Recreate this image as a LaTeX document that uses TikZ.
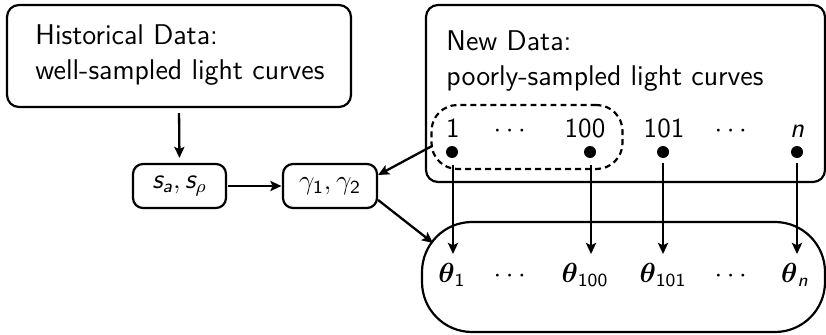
\documentclass[tikz,border=0pt]{standalone}
\usepackage{amsmath}
\usetikzlibrary{arrows.meta}
\renewcommand\familydefault{\sfdefault}
\newcommand\sfi[1]{\text{\sffamily\itshape #1}}
\newcommand\sfu[1]{\text{\sffamily\upshape #1}}
\newcommand\pu{0.4348pt}
\begin{document}
\begin{tikzpicture}[x=0.4348pt,y=-0.4348pt,
  box/.style={draw, line width=0.95pt, rounded corners=12*\pu, inner sep=0pt},
  arr/.style={line width=1pt, -{Stealth[length=4.8pt,width=4.4pt,inset=1pt]}},
  lbl/.style={font=\fontsize{12.4}{14}\selectfont, anchor=base west, inner sep=0pt},
  mth/.style={font=\fontsize{12}{14}\selectfont, inner sep=0pt, anchor=base},
  dotn/.style={circle, fill, inner sep=0pt, minimum size=12*\pu}]
\useasboundingbox (0,0) rectangle (826,334);
% left part
\node[box, minimum width=344*\pu, minimum height=102*\pu] (hist) at (179,56) {};
\node[lbl] (h1) at (35,44) {Historical Data:};
\node[lbl] (h2) at (35,79) {well-sampled light curves};
\node[box, rounded corners=10*\pu, minimum width=93*\pu, minimum height=44*\pu, font=\fontsize{12}{14}\selectfont] (sa) at (179.5,186) {$\sfi{s}_{\sfi{a}}, \sfi{s}_{\rho}$};
\node[box, rounded corners=10*\pu, minimum width=94*\pu, minimum height=44*\pu, font=\fontsize{12}{14}\selectfont] (gam) at (330,186) {$\gamma_{\sfu{1}}, \gamma_{\sfu{2}}$};
% new data
\node[box, minimum width=399*\pu, minimum height=177*\pu] (new) at (625.5,93.5) {};
\node[lbl] (n1) at (446,50) {New Data:};
\node[lbl] (n2) at (446,85) {poorly-sampled light curves};
\node[draw, line width=0.95pt, dash pattern=on 2.6pt off 1.75pt, rounded corners=26*\pu, minimum width=191*\pu, minimum height=64*\pu, inner sep=0pt] (dash) at (527,137) {};
\node[mth] (c1) at (453,137) {1};
\node[mth] (cd1) at (512,137) {$\cdots$};
\node[mth] (c100) at (585,137) {100};
\node[mth] (c101) at (664,137) {101};
\node[mth] (cd2) at (733,137) {$\cdots$};
\node[mth] (cn) at (797,137) {\itshape n};
\node[dotn] (d1) at (452,152) {};
\node[dotn] (d100) at (590,152) {};
\node[dotn] (d101) at (663,152) {};
\node[dotn] (dn) at (797,152) {};
% bottom
\node[box, rounded corners=50*\pu, minimum width=403*\pu, minimum height=110*\pu] (bot) at (623.5,277) {};
\node[mth] (t1) at (452,282) {$\boldsymbol{\theta}_{\sfu{1}}$};
\node[mth] (td1) at (512,282) {$\cdots$};
\node[mth] (t100) at (585,282) {$\boldsymbol{\theta}_{\sfu{100}}$};
\node[mth] (t101) at (663,282) {$\boldsymbol{\theta}_{\sfu{101}}$};
\node[mth] (td2) at (733,282) {$\cdots$};
\node[mth] (tn) at (795,282) {$\boldsymbol{\theta}_{\sfi{n}}$};
\coordinate (e1) at (453,254);
\coordinate (e100) at (591,254);
\coordinate (e101) at (663,254);
\coordinate (en) at (797,254);
\coordinate (s1) at (453,165);
\coordinate (s100) at (591,165);
\coordinate (s101) at (663,163);
\coordinate (sn) at (797,163);
\coordinate (dl) at (432,146);
\coordinate (bl) at (433,243);
% arrows
\draw[arr, shorten <=5*\pu, shorten >=5*\pu] (hist.south) -- (sa.north);
\draw[arr, shorten <=1*\pu, shorten >=0.5*\pu] (sa.east) -- (gam.west);
\draw[arr] (dl) -- ([yshift=11*\pu]gam.east);
\draw[arr] ([yshift=-14*\pu]gam.east) -- (bl);
\draw[arr] (s1) -- (e1);
\draw[arr] (s100) -- (e100);
\draw[arr] (s101) -- (e101);
\draw[arr] (sn) -- (en);
\end{tikzpicture}
\end{document}
